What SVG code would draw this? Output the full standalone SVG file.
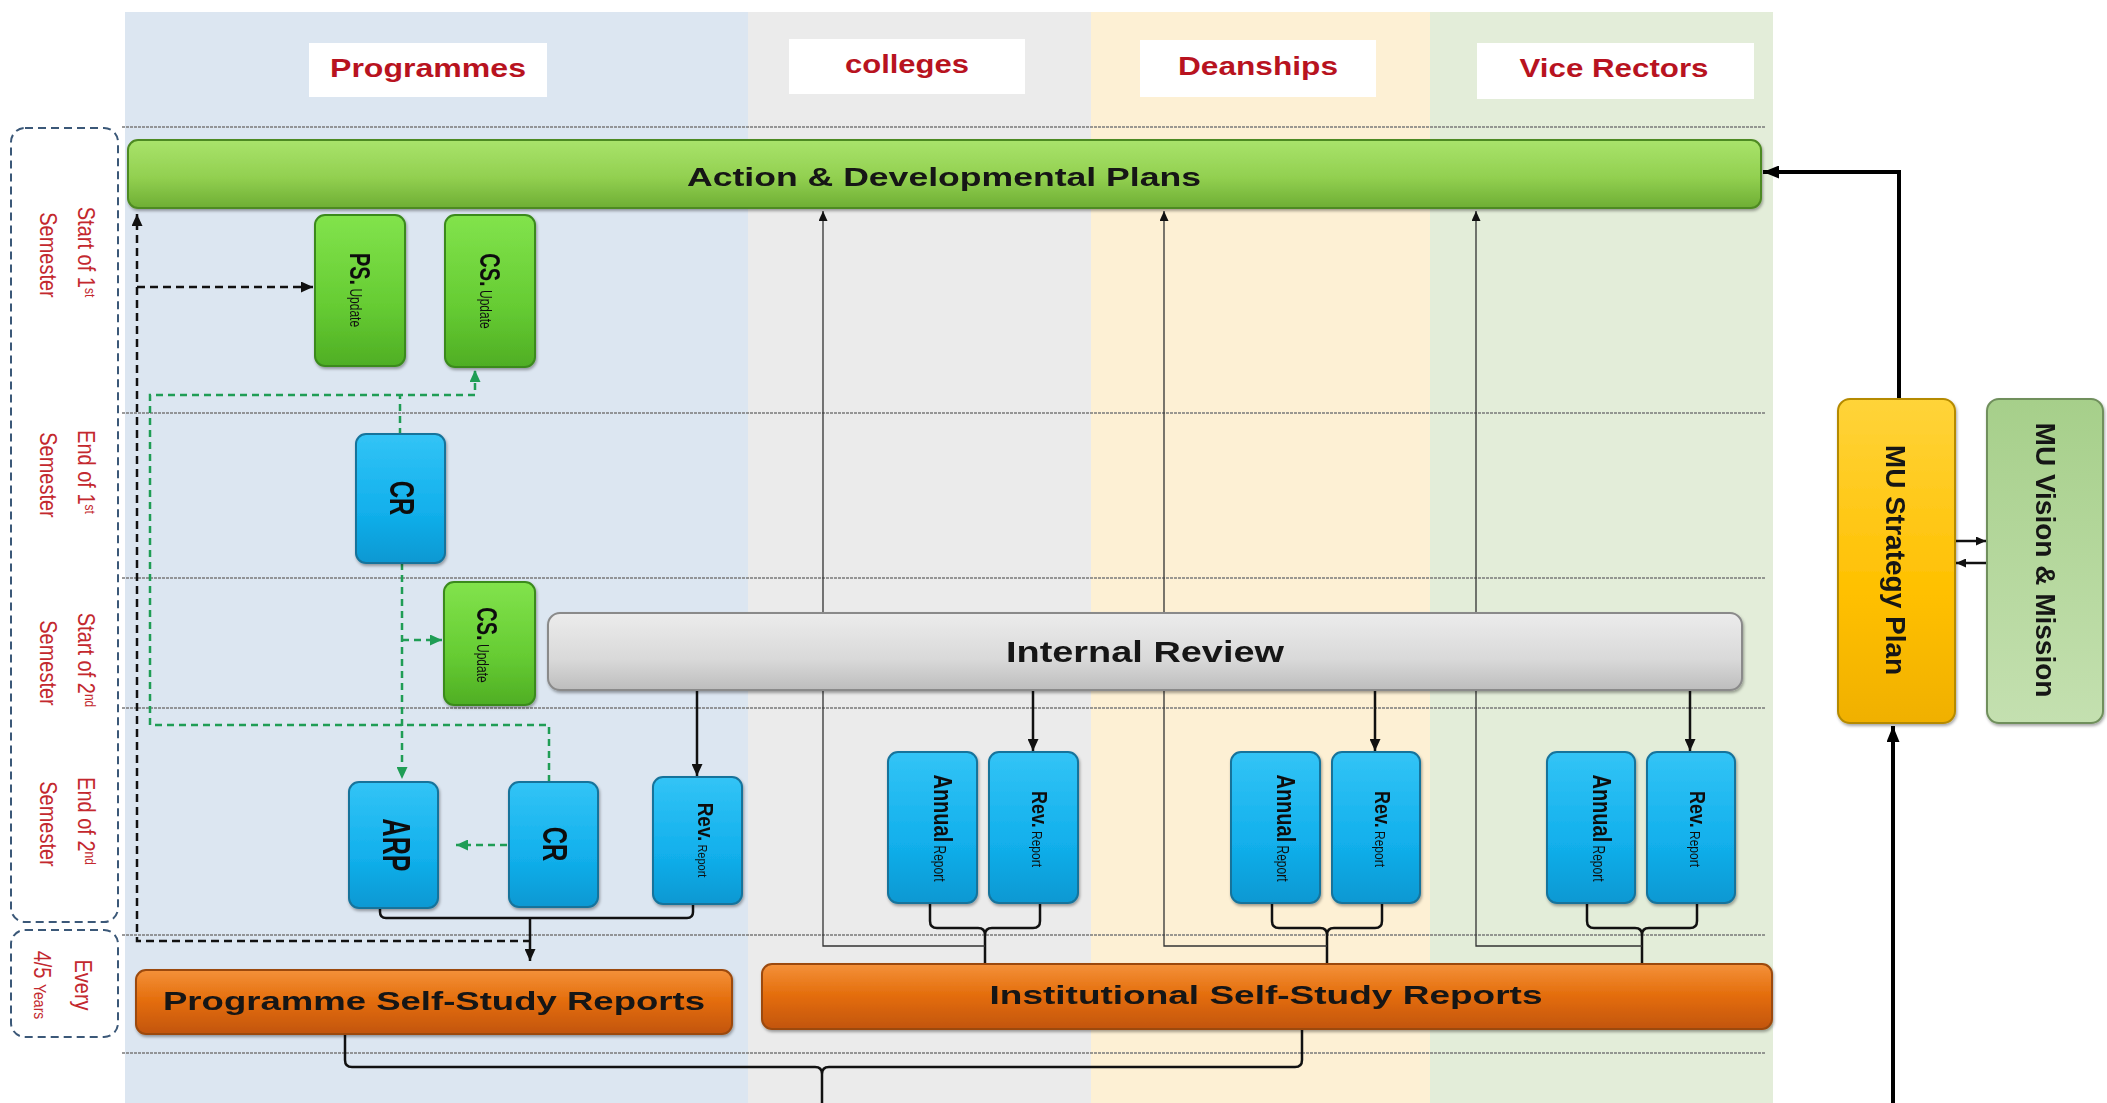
<svg xmlns="http://www.w3.org/2000/svg" width="2107" height="1103" viewBox="0 0 2107 1103">
<style>
  .hdr{fill:#fff}
  .htx{font-family:"Liberation Sans",Arial,sans-serif;font-weight:bold;font-size:26px;fill:#b8131f;text-anchor:middle}
  .tl{font-family:"Liberation Sans",Arial,sans-serif;font-size:20px;fill:#c3282e;text-anchor:middle}
  .tlbox{fill:none;stroke:#3b5878;stroke-width:2;stroke-dasharray:8 5}
  .row{stroke:#7a7a7a;stroke-width:1.4;stroke-dasharray:3 1;fill:none}
  .nt{font-family:"Liberation Sans",Arial,sans-serif;fill:#111;text-anchor:middle}
  .bt{font-family:"Liberation Sans",Arial,sans-serif;font-weight:bold;fill:#141414;text-anchor:middle}
  .gn{fill:url(#gGreen);stroke:#3a8a1e;stroke-width:2}
  .bl{fill:url(#gBlue);stroke:#17739b;stroke-width:2}
  .or{fill:url(#gOrange);stroke:#9c4a0c;stroke-width:2}
  .blk{fill:none;stroke:#111;stroke-width:2.5}
  .thin{fill:none;stroke:#333;stroke-width:1.3}
  .bdash{fill:none;stroke:#111;stroke-width:2.5;stroke-dasharray:8 5}
  .gdash{fill:none;stroke:#1f9d55;stroke-width:2.5;stroke-dasharray:7 5}
  .thick{fill:none;stroke:#000;stroke-width:4}
</style>
<defs>
  <linearGradient id="gGreen" x1="0" y1="0" x2="0" y2="1">
    <stop offset="0" stop-color="#82e34c"/><stop offset="0.6" stop-color="#66cc33"/><stop offset="1" stop-color="#4fae24"/>
  </linearGradient>
  <linearGradient id="gAction" x1="0" y1="0" x2="0" y2="1">
    <stop offset="0" stop-color="#a9e36b"/><stop offset="0.55" stop-color="#92d050"/><stop offset="1" stop-color="#6eae34"/>
  </linearGradient>
  <linearGradient id="gBlue" x1="0" y1="0" x2="0" y2="1">
    <stop offset="0" stop-color="#33c4f6"/><stop offset="0.6" stop-color="#12b0ec"/><stop offset="1" stop-color="#0a98d2"/>
  </linearGradient>
  <linearGradient id="gGray" x1="0" y1="0" x2="0" y2="1">
    <stop offset="0" stop-color="#ececec"/><stop offset="0.6" stop-color="#d9d9d9"/><stop offset="1" stop-color="#bdbdbd"/>
  </linearGradient>
  <linearGradient id="gOrange" x1="0" y1="0" x2="0" y2="1">
    <stop offset="0" stop-color="#f4913a"/><stop offset="0.5" stop-color="#e36c0a"/><stop offset="1" stop-color="#c25508"/>
  </linearGradient>
  <linearGradient id="gYellow" x1="0" y1="0" x2="0" y2="1">
    <stop offset="0" stop-color="#ffd43a"/><stop offset="0.6" stop-color="#ffc000"/><stop offset="1" stop-color="#f0b000"/>
  </linearGradient>
  <linearGradient id="gVision" x1="0" y1="0" x2="0" y2="1">
    <stop offset="0" stop-color="#a6cf8a"/><stop offset="1" stop-color="#c4e0b0"/>
  </linearGradient>
  <filter id="sh" x="-10%" y="-10%" width="120%" height="130%">
    <feDropShadow dx="1" dy="2" stdDeviation="1.5" flood-opacity="0.35"/>
  </filter>
  <marker id="ab" markerUnits="userSpaceOnUse" markerWidth="12" markerHeight="11" viewBox="0 0 12 11" refX="12" refY="5.5" orient="auto"><path d="M0,0 L12,5.5 L0,11 z" fill="#111"/></marker>
  <marker id="abs" markerUnits="userSpaceOnUse" markerWidth="10" markerHeight="9" viewBox="0 0 10 9" refX="10" refY="4.5" orient="auto"><path d="M0,0 L10,4.5 L0,9 z" fill="#111"/></marker>
  <marker id="abl" markerUnits="userSpaceOnUse" markerWidth="16" markerHeight="13" viewBox="0 0 16 13" refX="16" refY="6.5" orient="auto"><path d="M0,0 L16,6.5 L0,13 z" fill="#000"/></marker>
  <marker id="ag" markerUnits="userSpaceOnUse" markerWidth="12" markerHeight="11" viewBox="0 0 12 11" refX="12" refY="5.5" orient="auto"><path d="M0,0 L12,5.5 L0,11 z" fill="#1f9d55"/></marker>
</defs>

<rect width="2107" height="1103" fill="#ffffff"/>

<g id="columns">
  <rect x="125" y="12" width="623" height="1091" fill="#dce6f1"/>
  <rect x="748" y="12" width="343" height="1091" fill="#ebebeb"/>
  <rect x="1091" y="12" width="339" height="1091" fill="#fdf0d4"/>
  <rect x="1430" y="12" width="343" height="1091" fill="#e3edd9"/>
</g>

<g id="rows">
  <line class="row" x1="122" y1="127" x2="1765" y2="127"/>
  <line class="row" x1="122" y1="413" x2="1765" y2="413"/>
  <line class="row" x1="122" y1="578" x2="1765" y2="578"/>
  <line class="row" x1="122" y1="708" x2="1765" y2="708"/>
  <line class="row" x1="122" y1="935" x2="1765" y2="935"/>
  <line class="row" x1="122" y1="1053" x2="1765" y2="1053"/>
</g>

<g id="headers">
  <g id="hdr-programmes"><rect class="hdr" x="309" y="43" width="238" height="54"/><text class="htx" x="428" y="77" textLength="196" lengthAdjust="spacingAndGlyphs">Programmes</text></g>
  <g id="hdr-colleges"><rect class="hdr" x="789" y="39" width="236" height="55"/><text class="htx" x="907" y="73" textLength="124" lengthAdjust="spacingAndGlyphs">colleges</text></g>
  <g id="hdr-deanships"><rect class="hdr" x="1140" y="40" width="236" height="57"/><text class="htx" x="1258" y="75" textLength="160" lengthAdjust="spacingAndGlyphs">Deanships</text></g>
  <g id="hdr-vicerectors"><rect class="hdr" x="1477" y="43" width="277" height="56"/><text class="htx" x="1614" y="77" textLength="189" lengthAdjust="spacingAndGlyphs">Vice Rectors</text></g>
</g>

<g id="timeline">
  <rect class="tlbox" x="11" y="128" width="107" height="794" rx="14"/>
  <rect class="tlbox" x="11" y="930" width="107" height="107" rx="14"/>
  <text class="tl" transform="translate(78,252) rotate(90) scale(1,1.15)">Start of 1<tspan font-size="12" baseline-shift="super">st</tspan></text>
  <text class="tl" transform="translate(40,255) rotate(90) scale(1,1.15)">Semester</text>
  <text class="tl" transform="translate(78,472) rotate(90) scale(1,1.15)">End of 1<tspan font-size="12" baseline-shift="super">st</tspan></text>
  <text class="tl" transform="translate(40,475) rotate(90) scale(1,1.15)">Semester</text>
  <text class="tl" transform="translate(78,660) rotate(90) scale(1,1.15)">Start of 2<tspan font-size="12" baseline-shift="super">nd</tspan></text>
  <text class="tl" transform="translate(40,663) rotate(90) scale(1,1.15)">Semester</text>
  <text class="tl" transform="translate(78,821) rotate(90) scale(1,1.15)">End of 2<tspan font-size="12" baseline-shift="super">nd</tspan></text>
  <text class="tl" transform="translate(40,824) rotate(90) scale(1,1.15)">Semester</text>
  <text class="tl" transform="translate(75,985) rotate(90) scale(1,1.15)">Every</text>
  <text class="tl" transform="translate(34,985) rotate(90) scale(1,1.15)">4/5 <tspan font-size="14">Years</tspan></text>
</g>

<g id="connectors">
  <!-- black dashed feedback -->
  <path class="bdash" d="M531 941 H137 V214" marker-end="url(#ab)"/>
  <path class="bdash" d="M137 287 H313" marker-end="url(#ab)"/>
  <!-- green dashed -->
  <path class="gdash" d="M549 782 V725 H150 V395 H475 V370" marker-end="url(#ag)"/>
  <path class="gdash" d="M400 435 V395"/>
  <path class="gdash" d="M402 563 V779" marker-end="url(#ag)"/>
  <path class="gdash" d="M402 640 H442" marker-end="url(#ag)"/>
  <path class="gdash" d="M507 845 H456" marker-end="url(#ag)"/>
  <!-- internal review to rev reports -->
  <path class="blk" d="M697 690 V776" marker-end="url(#ab)"/>
  <path class="blk" d="M1033 690 V751" marker-end="url(#ab)"/>
  <path class="blk" d="M1375 690 V751" marker-end="url(#ab)"/>
  <path class="blk" d="M1690 690 V751" marker-end="url(#ab)"/>
  <!-- programme bracket -->
  <path class="blk" d="M380 907 V912 Q380 918 386 918 H687 Q693 918 693 912 V904"/>
  <path class="blk" d="M530 918 V961" marker-end="url(#ab)"/>
  <!-- pair brackets -->
  <path class="blk" d="M930 903 V921 Q930 928 937 928 H978 Q985 928 985 935 V964 M1040 903 V921 Q1040 928 1033 928 H992 Q985 928 985 935"/>
  <path class="blk" d="M1272 903 V921 Q1272 928 1279 928 H1320 Q1327 928 1327 935 V964 M1382 903 V921 Q1382 928 1375 928 H1334 Q1327 928 1327 935"/>
  <path class="blk" d="M1587 903 V921 Q1587 928 1594 928 H1635 Q1642 928 1642 935 V964 M1697 903 V921 Q1697 928 1690 928 H1649 Q1642 928 1642 935"/>
  <!-- thin lines up to action plans -->
  <path class="thin" d="M985 946 H823 V211" marker-end="url(#abs)"/>
  <path class="thin" d="M1327 946 H1164 V211" marker-end="url(#abs)"/>
  <path class="thin" d="M1642 946 H1476 V211" marker-end="url(#abs)"/>
  <!-- bottom bracket -->
  <path class="blk" d="M345 1035 V1060 Q345 1067 352 1067 H815 Q822 1067 822 1074 V1103 M1302 1030 V1060 Q1302 1067 1295 1067 H829 Q822 1067 822 1074"/>
  <!-- MU strategy links -->
  <path class="thick" d="M1893 1103 V726" marker-end="url(#abl)"/>
  <path class="thick" d="M1899 399 V172 H1763" marker-end="url(#abl)"/>
  <path class="blk" stroke-width="2" d="M1955 541 H1986" marker-end="url(#abs)"/>
  <path class="blk" stroke-width="2" d="M1987 563 H1956" marker-end="url(#abs)"/>
</g>

<g id="action-plans" filter="url(#sh)">
  <rect x="128" y="140" width="1633" height="68" rx="10" fill="url(#gAction)" stroke="#4e8a22" stroke-width="2"/>
  <text class="bt" x="944" y="186" font-size="26" textLength="514" lengthAdjust="spacingAndGlyphs">Action &amp; Developmental  Plans</text>
</g>

<g id="ps-update" filter="url(#sh)">
  <rect class="gn" x="315" y="215" width="90" height="151" rx="10"/>
  <text class="nt" transform="translate(350,290) rotate(90) scale(1,1.45)"><tspan font-weight="bold" font-size="20">PS.</tspan><tspan font-size="12"> Update</tspan></text>
</g>
<g id="cs-update-1" filter="url(#sh)">
  <rect class="gn" x="445" y="215" width="90" height="152" rx="10"/>
  <text class="nt" transform="translate(480,291) rotate(90) scale(1,1.45)"><tspan font-weight="bold" font-size="20">CS.</tspan><tspan font-size="12"> Update</tspan></text>
</g>
<g id="cr-1" filter="url(#sh)">
  <rect class="bl" x="356" y="434" width="89" height="129" rx="10"/>
  <text class="nt" font-weight="bold" font-size="24" transform="translate(390,498) rotate(90) scale(1,1.45)">CR</text>
</g>
<g id="cs-update-2" filter="url(#sh)">
  <rect class="gn" x="444" y="582" width="91" height="123" rx="10"/>
  <text class="nt" transform="translate(477,645) rotate(90) scale(1,1.45)"><tspan font-weight="bold" font-size="20">CS.</tspan><tspan font-size="12"> Update</tspan></text>
</g>

<g id="internal-review" filter="url(#sh)">
  <rect x="548" y="613" width="1194" height="77" rx="12" fill="url(#gGray)" stroke="#8a8a8a" stroke-width="2"/>
  <text class="bt" x="1145" y="662" font-size="29" textLength="278" lengthAdjust="spacingAndGlyphs">Internal Review</text>
</g>

<g id="arp" filter="url(#sh)">
  <rect class="bl" x="349" y="782" width="89" height="126" rx="10"/>
  <text class="nt" font-weight="bold" font-size="25" transform="translate(383,845) rotate(90) scale(1,1.55)">ARP</text>
</g>
<g id="cr-2" filter="url(#sh)">
  <rect class="bl" x="509" y="782" width="89" height="125" rx="10"/>
  <text class="nt" font-weight="bold" font-size="24" transform="translate(543,844) rotate(90) scale(1,1.5)">CR</text>
</g>
<g id="rev-programmes" filter="url(#sh)">
  <rect class="bl" x="653" y="777" width="89" height="127" rx="10"/>
  <text class="nt" transform="translate(698,840) rotate(90) scale(1,1.2)"><tspan font-weight="bold" font-size="19">Rev.</tspan><tspan font-size="11"> Report</tspan></text>
</g>

<g id="annual-colleges" filter="url(#sh)">
  <rect class="bl" x="888" y="752" width="89" height="151" rx="10"/>
  <text class="nt" transform="translate(934,828) rotate(90) scale(1,1.3)"><tspan font-weight="bold" font-size="20">Annual</tspan><tspan font-size="12"> Report</tspan></text>
</g>
<g id="rev-colleges" filter="url(#sh)">
  <rect class="bl" x="989" y="752" width="89" height="151" rx="10"/>
  <text class="nt" transform="translate(1032,829) rotate(90) scale(1,1.2)"><tspan font-weight="bold" font-size="18">Rev.</tspan><tspan font-size="12"> Report</tspan></text>
</g>
<g id="annual-deanships" filter="url(#sh)">
  <rect class="bl" x="1231" y="752" width="89" height="151" rx="10"/>
  <text class="nt" transform="translate(1277,828) rotate(90) scale(1,1.3)"><tspan font-weight="bold" font-size="20">Annual</tspan><tspan font-size="12"> Report</tspan></text>
</g>
<g id="rev-deanships" filter="url(#sh)">
  <rect class="bl" x="1332" y="752" width="88" height="151" rx="10"/>
  <text class="nt" transform="translate(1375,829) rotate(90) scale(1,1.2)"><tspan font-weight="bold" font-size="18">Rev.</tspan><tspan font-size="12"> Report</tspan></text>
</g>
<g id="annual-vicerectors" filter="url(#sh)">
  <rect class="bl" x="1547" y="752" width="88" height="151" rx="10"/>
  <text class="nt" transform="translate(1593,828) rotate(90) scale(1,1.3)"><tspan font-weight="bold" font-size="20">Annual</tspan><tspan font-size="12"> Report</tspan></text>
</g>
<g id="rev-vicerectors" filter="url(#sh)">
  <rect class="bl" x="1647" y="752" width="88" height="151" rx="10"/>
  <text class="nt" transform="translate(1690,829) rotate(90) scale(1,1.2)"><tspan font-weight="bold" font-size="18">Rev.</tspan><tspan font-size="12"> Report</tspan></text>
</g>

<g id="programme-ssr" filter="url(#sh)">
  <rect class="or" x="136" y="970" width="596" height="64" rx="10"/>
  <text class="bt" x="434" y="1010" font-size="26" textLength="542" lengthAdjust="spacingAndGlyphs">Programme Self-Study Reports</text>
</g>
<g id="institutional-ssr" filter="url(#sh)">
  <rect class="or" x="762" y="964" width="1010" height="65" rx="10"/>
  <text class="bt" x="1266" y="1004" font-size="26" textLength="553" lengthAdjust="spacingAndGlyphs">Institutional Self-Study Reports</text>
</g>

<g id="mu-strategy" filter="url(#sh)">
  <rect x="1838" y="399" width="117" height="324" rx="12" fill="url(#gYellow)" stroke="#b58a00" stroke-width="2"/>
  <text class="bt" font-size="28" transform="translate(1886,560) rotate(90)">MU Strategy Plan</text>
</g>
<g id="mu-vision" filter="url(#sh)">
  <rect x="1987" y="399" width="116" height="324" rx="12" fill="url(#gVision)" stroke="#6f8f5c" stroke-width="2"/>
  <text class="bt" font-size="28" transform="translate(2036,560) rotate(90)">MU Vision &amp; Mission</text>
</g>
</svg>
